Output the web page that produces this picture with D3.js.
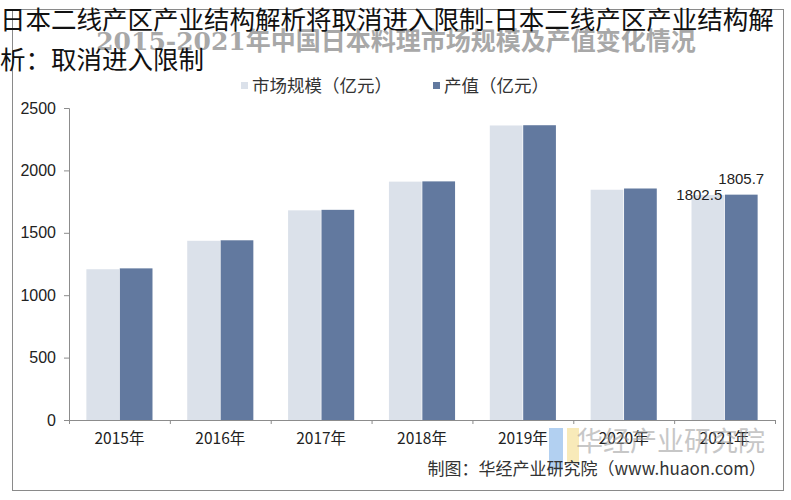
<!DOCTYPE html>
<html>
<head>
<meta charset="utf-8">
<script src="https://cdn.jsdelivr.net/npm/d3@7"></script>
<style>
  body { margin: 0; background: #fff; }
  svg { display: block; }
</style>
</head>
<body>
<div id="chart"></div>
<script>
// chart data
const years = ['2015年', '2016年', '2017年', '2018年', '2019年', '2020年', '2021年'];
const marketSize = [1208, 1436, 1680, 1910, 2360, 1845, 1802.5];
const outputValue = [1215, 1440, 1684, 1912, 2362, 1855, 1805.7];
const seriesNames = ['市场规模（亿元）', '产值（亿元）'];
const yTicks = [0, 500, 1000, 1500, 2000, 2500];
const labelledYear = '2021年';

const w = 791;
const h = 500;
const colors = ['#dbe1ea', '#62799f'];
const cjk = '"Noto Sans CJK SC", "Liberation Sans", sans-serif';

const svg = d3.select('#chart').append('svg')
  .attr('width', w)
  .attr('height', h);

// outer frame of the picture
svg.append('rect')
  .attr('x', 12.5).attr('y', 9.5)
  .attr('width', 771).attr('height', 481)
  .attr('fill', '#fff')
  .attr('stroke', '#8a8a8a');

// faded chart title
svg.append('text')
  .attr('x', 396).attr('y', 50)
  .attr('text-anchor', 'middle')
  .attr('font-family', '"DejaVu Serif", "Noto Sans CJK SC", serif')
  .attr('font-weight', 'bold')
  .attr('font-size', 25)
  .attr('fill', '#a8a8a8')
  .text('2015-2021年中国日本料理市场规模及产值变化情况');

// plot area edges
const plotL = 69, plotR = 775, plotT = 108, plotB = 420;
const x = d3.scaleBand().domain(years).range([plotL, plotR]).paddingInner(0).paddingOuter(0);
const inner = d3.scaleBand().domain([0, 1]).range([0, x.bandwidth()]).paddingInner(0.02).paddingOuter(0.52);
const y = d3.scaleLinear().domain([0, 2500]).range([plotB, plotT]);

// y axis
const yAxis = d3.axisLeft(y).tickValues(yTicks).tickFormat(d3.format('d')).tickSize(5).tickPadding(8);
const gy = svg.append('g')
  .attr('transform', 'translate(' + plotL + ',0)')
  .call(yAxis);
gy.selectAll('path, line').attr('stroke', '#8c8c8c');
gy.selectAll('text')
  .attr('font-family', '"Liberation Sans", Arial, sans-serif')
  .attr('font-size', 16)
  .attr('fill', '#222');

// x axis: boundary ticks and centred labels
const xEdges = d3.scaleLinear().domain([0, years.length]).range([plotL, plotR]);
const gxTicks = svg.append('g')
  .attr('transform', 'translate(0,' + plotB + ')')
  .call(d3.axisBottom(xEdges).ticks(years.length).tickSize(4).tickFormat(''));
gxTicks.selectAll('path, line').attr('stroke', '#8c8c8c');

const gx = svg.append('g')
  .attr('transform', 'translate(0,' + plotB + ')')
  .call(d3.axisBottom(x).tickSize(0).tickPadding(13));
gx.select('.domain').remove();
gx.selectAll('text')
  .attr('font-family', cjk)
  .attr('font-size', 15.5)
  .attr('fill', '#222');

// bars
const series = [marketSize, outputValue];
series.forEach((vals, s) => {
  svg.append('g').selectAll('rect').data(vals).enter().append('rect')
    .attr('x', (d, i) => x(years[i]) + inner(s))
    .attr('y', d => y(d))
    .attr('width', inner.bandwidth())
    .attr('height', d => plotB - y(d))
    .attr('fill', colors[s]);
});

// value labels on the last year
const li = years.indexOf(labelledYear);
svg.append('text')
  .attr('x', x(labelledYear) + inner(0) + inner.bandwidth() - 2)
  .attr('y', y(marketSize[li]) + 5)
  .attr('text-anchor', 'end')
  .attr('font-family', '"Liberation Sans", Arial, sans-serif')
  .attr('font-size', 15)
  .attr('fill', '#222')
  .text(marketSize[li]);
svg.append('text')
  .attr('x', x(labelledYear) + inner(1) + inner.bandwidth() / 2)
  .attr('y', y(outputValue[li]) - 11)
  .attr('text-anchor', 'middle')
  .attr('font-family', '"Liberation Sans", Arial, sans-serif')
  .attr('font-size', 15)
  .attr('fill', '#222')
  .text(outputValue[li]);

// legend
const legendX = [241, 433];
seriesNames.forEach((name, s) => {
  svg.append('rect')
    .attr('x', legendX[s]).attr('y', 82)
    .attr('width', 7).attr('height', 7)
    .attr('fill', colors[s]);
  svg.append('text')
    .attr('x', legendX[s] + 11).attr('y', 92)
    .attr('font-family', cjk)
    .attr('font-size', 17.5)
    .attr('fill', '#333')
    .text(name);
});

// watermark logo + name
svg.append('rect').attr('x', 549).attr('y', 428).attr('width', 14).attr('height', 42)
  .attr('fill', '#7fb0e8').attr('opacity', 0.6);
svg.append('rect').attr('x', 567).attr('y', 428).attr('width', 12).attr('height', 34)
  .attr('fill', '#f3dc8a').attr('opacity', 0.6);
svg.append('text')
  .attr('x', 765).attr('y', 451)
  .attr('text-anchor', 'end')
  .attr('font-family', cjk)
  .attr('font-size', 27)
  .attr('fill', '#9a9a9a')
  .attr('opacity', 0.55)
  .text('华经产业研究院');

// source
svg.append('text')
  .attr('x', 766).attr('y', 475)
  .attr('text-anchor', 'end')
  .attr('font-family', cjk)
  .attr('font-size', 17)
  .attr('fill', '#333')
  .text('制图：华经产业研究院（www.huaon.com）');

// page title laid over the picture
const pageTitle = ['日本二线产区产业结构解析将取消进入限制-日本二线产区产业结构解', '析：取消进入限制'];
svg.selectAll('.page-title').data(pageTitle).enter().append('text')
  .attr('class', 'page-title')
  .attr('x', 0)
  .attr('y', (d, i) => 29 + i * 40)
  .attr('font-family', cjk)
  .attr('font-size', 25.5)
  .attr('fill', '#111')
  .text(d => d);
</script>
</body>
</html>
